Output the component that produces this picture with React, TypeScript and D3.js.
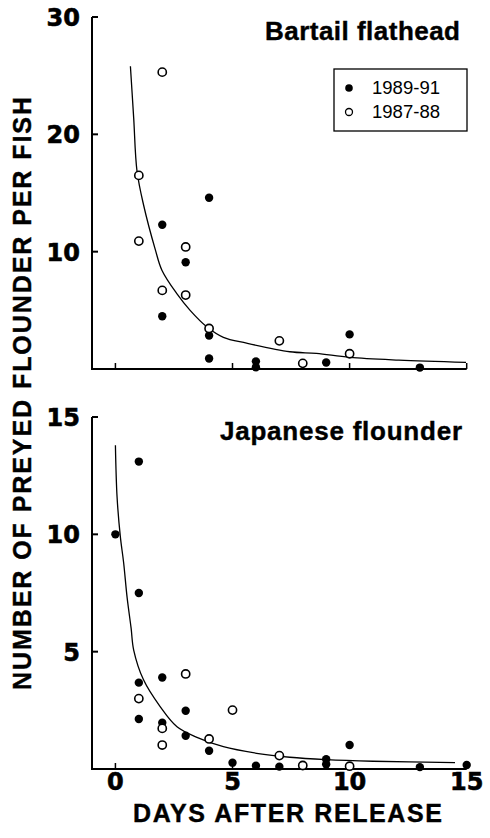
import React from "react";
import * as d3 from "d3";

// ---------- data ----------
const xTicks = [0, 5, 10, 15];
const topYTicks = [10, 20, 30];
const bottomYTicks = [5, 10, 15];
const legendLabels = ["1989-91", "1987-88"];

// Bartail flathead
const topFilled: [number, number][] = [
  [2, 12.3], [2, 4.5], [3, 9.1], [4, 14.6], [4, 2.85], [4, 0.9], [6, 0.65], [6, 0.15],
  [9, 0.55], [10, 2.95], [13, 0.12],
];
const topOpen: [number, number][] = [
  [1, 16.5], [1, 10.9], [2, 25.3], [2, 6.7], [3, 10.4], [3, 6.3], [4, 3.45], [7, 2.4],
  [8, 0.48], [10, 1.3],
];
const topCurve: [number, number][] = [
  [0.64, 25.8], [0.78, 21.4], [0.92, 16.9], [1.2, 14.0], [1.7, 10.2], [1.99, 8.4],
  [2.63, 6.4], [3.19, 5.0], [3.9, 3.6], [4.61, 2.7], [5.6, 2.2], [7.45, 1.47],
  [8.58, 1.33], [10, 0.99], [12.1, 0.76], [14.97, 0.57],
];

// Japanese flounder
const bottomFilled: [number, number][] = [
  [0, 10], [1, 13.1], [1, 7.5], [1, 3.68], [1, 2.13], [2, 3.9], [2, 1.97], [3, 2.48],
  [3, 1.42], [4, 0.78], [5, 0.27], [6, 0.14], [7, 0.1], [9, 0.42], [9, 0.2], [10, 1.02],
  [13, 0.08], [15, 0.17],
];
const bottomOpen: [number, number][] = [
  [1, 3.0], [2, 1.73], [2, 1.02], [3, 4.05], [4, 1.28], [5, 2.51], [7, 0.57], [8, 0.15],
  [10, 0.12],
];
const bottomCurve: [number, number][] = [
  [0, 13.8], [0.07, 11.6], [0.21, 9.9], [0.35, 8.8], [0.5, 7.3], [0.67, 6.0], [0.78, 5.07],
  [1.2, 3.8], [1.91, 2.66], [2.63, 1.8], [3.48, 1.35], [4.61, 0.95], [6.03, 0.67],
  [7.45, 0.5], [9, 0.4], [11, 0.33], [14.5, 0.27],
];

const W = 490;
const H = 838;
const FONT = "'Liberation Sans', Arial, Helvetica, sans-serif";
const NUMFONT = "'DejaVu Sans', sans-serif";

const x = d3.scaleLinear().domain([-1, 15]).range([92, 466.7]);

type PanelProps = {
  y0: number;
  y1: number;
  ymax: number;
  yTicks: number[];
  filled: [number, number][];
  open: [number, number][];
  curve: [number, number][];
  title: string;
  titleX: number;
  titleY: number;
  titleLen: number;
};

function Panel(p: PanelProps) {
  const y = d3.scaleLinear().domain([0, p.ymax]).range([p.y0, p.y1]);
  const line = d3
    .line<[number, number]>()
    .x((d) => x(d[0]))
    .y((d) => y(d[1]))
    .curve(d3.curveCatmullRom.alpha(0.5));
  const ax = x(-1);
  const xEnd = x(15);
  return (
    <g>
      {/* axes */}
      <line x1={ax} x2={ax} y1={y(p.ymax)} y2={y(0)} stroke="#000" strokeWidth={2} />
      <line x1={ax - 1} x2={xEnd} y1={y(0)} y2={y(0)} stroke="#000" strokeWidth={2} />
      {p.yTicks.map((t) => (
        <g key={t}>
          <line x1={ax} x2={ax + 6} y1={y(t)} y2={y(t)} stroke="#000" strokeWidth={2} />
          <text
            x={80}
            y={y(t) + 9}
            textAnchor="end"
            fontFamily={NUMFONT}
            fontWeight="bold"
            fontSize={24}
            stroke="#000"
            strokeWidth={0.6}
          >
            {t}
          </text>
        </g>
      ))}
      {xTicks.map((t) => (
        <line key={t} x1={x(t)} x2={x(t)} y1={y(0)} y2={y(0) - 6} stroke="#000" strokeWidth={1.5} />
      ))}
      {/* curve */}
      <path d={line(p.curve) || ""} fill="none" stroke="#000" strokeWidth={1.3} />
      {/* points */}
      {p.filled.map((d, i) => (
        <circle key={"f" + i} cx={x(d[0])} cy={y(d[1])} r={4.2} fill="#000" />
      ))}
      {p.open.map((d, i) => (
        <circle
          key={"o" + i}
          cx={x(d[0])}
          cy={y(d[1])}
          r={4.1}
          fill="#fff"
          stroke="#000"
          strokeWidth={1.6}
        />
      ))}
      <text
        x={p.titleX}
        y={p.titleY}
        fontFamily={FONT}
        fontWeight="bold"
        fontSize={26}
        textLength={p.titleLen}
        lengthAdjust="spacing"
        stroke="#000"
        strokeWidth={0.4}
      >
        {p.title}
      </text>
    </g>
  );
}

export default function App() {
  return (
    <svg
      width={W}
      height={H}
      viewBox={`0 0 ${W} ${H}`}
      style={{ position: "absolute", left: 0, top: 0, background: "#fff" }}
    >
      <rect x={0} y={0} width={W} height={H} fill="#fff" />
      <Panel
        y0={369}
        y1={17}
        ymax={30}
        yTicks={topYTicks}
        filled={topFilled}
        open={topOpen}
        curve={topCurve}
        title="Bartail flathead"
        titleX={265}
        titleY={40}
        titleLen={195}
      />
      <Panel
        y0={769}
        y1={417}
        ymax={15}
        yTicks={bottomYTicks}
        filled={bottomFilled}
        open={bottomOpen}
        curve={bottomCurve}
        title="Japanese flounder"
        titleX={220}
        titleY={440}
        titleLen={242}
      />
      {/* legend */}
      <g>
        <rect x={334} y={69} width={133} height={62} fill="#fff" stroke="#000" strokeWidth={1.3} />
        <circle cx={349} cy={88} r={3.8} fill="#000" />
        <circle cx={349} cy={112} r={3.5} fill="#fff" stroke="#000" strokeWidth={1.3} />
        <text x={372} y={94} fontFamily={FONT} fontSize={18} textLength={68} lengthAdjust="spacingAndGlyphs">
          {legendLabels[0]}
        </text>
        <text x={372} y={118} fontFamily={FONT} fontSize={18} textLength={68} lengthAdjust="spacingAndGlyphs">
          {legendLabels[1]}
        </text>
      </g>
      {/* x tick labels */}
      {xTicks.map((t) => (
        <text
          key={t}
          x={x(t)}
          y={790}
          textAnchor="middle"
          fontFamily={NUMFONT}
          fontWeight="bold"
          fontSize={24}
          stroke="#000"
          strokeWidth={0.6}
        >
          {t}
        </text>
      ))}
      <text
        x={133}
        y={822}
        fontFamily={FONT}
        fontWeight="bold"
        fontSize={25}
        textLength={309}
        lengthAdjust="spacing"
        stroke="#000"
        strokeWidth={0.4}
      >
        DAYS AFTER RELEASE
      </text>
      <text
        transform="translate(31,690) rotate(-90)"
        x={0}
        y={0}
        fontFamily={FONT}
        fontWeight="bold"
        fontSize={25}
        textLength={593}
        lengthAdjust="spacing"
        stroke="#000"
        strokeWidth={0.4}
      >
        NUMBER OF PREYED FLOUNDER PER FISH
      </text>
    </svg>
  );
}
